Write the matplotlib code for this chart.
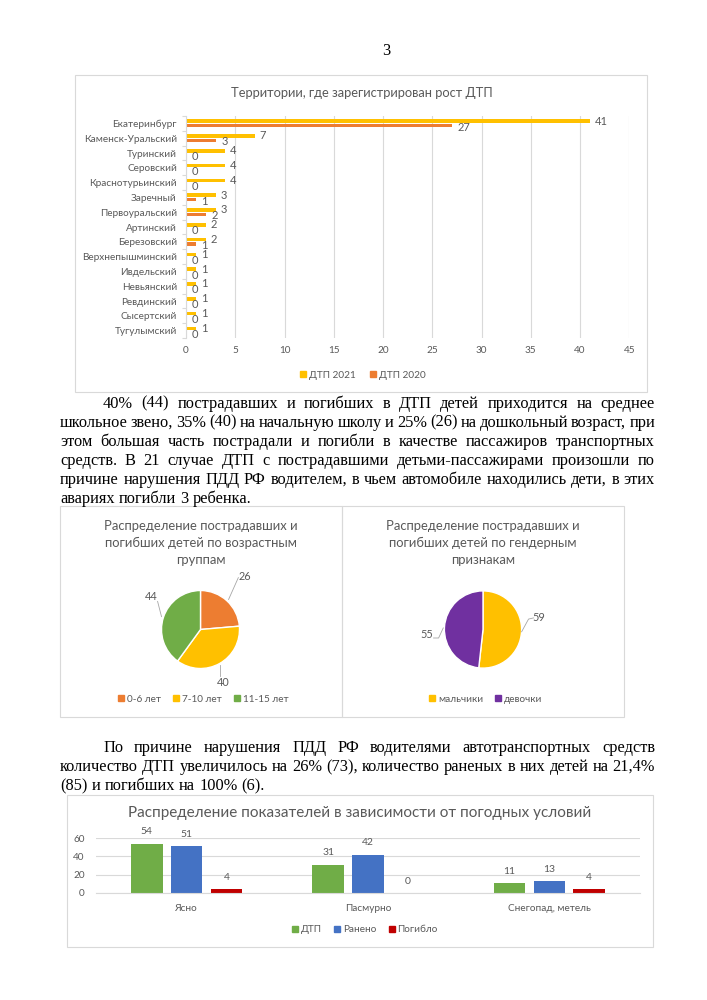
import matplotlib

matplotlib.use("Agg")
import matplotlib.pyplot as plt
import numpy as np
from matplotlib.font_manager import FontProperties
from matplotlib.lines import Line2D
from matplotlib.patches import Rectangle


W, H = 707, 1000

# --- data -------------------------------------------------------------
TERRITORIES = [
    "Екатеринбург", "Каменск-Уральский", "Туринский", "Серовский",
    "Краснотурьинский", "Заречный", "Первоуральский", "Артинский",
    "Березовский", "Верхнепышминский", "Ивдельский", "Невьянский",
    "Ревдинский", "Сысертский", "Тугулымский",
]
DTP_2021 = [41, 7, 4, 4, 4, 3, 3, 2, 2, 1, 1, 1, 1, 1, 1]
DTP_2020 = [27, 3, 0, 0, 0, 1, 2, 0, 1, 0, 0, 0, 0, 0, 0]

AGE_GROUPS = ["0-6 лет", "7-10 лет", "11-15 лет"]
AGE_VALUES = [26, 40, 44]

GENDERS = ["мальчики", "девочки"]
GENDER_VALUES = [59, 55]

WEATHER = ["Ясно", "Пасмурно", "Снегопад, метель"]
WEATHER_SERIES = ["ДТП", "Ранено", "Погибло"]
W_DTP = [54, 31, 11]
W_RANENO = [51, 42, 13]
W_POGIBLO = [4, 0, 4]

PARA_1 = [
    "40% (44) пострадавших и погибших в ДТП детей приходится на среднее",
    "школьное звено, 35% (40) на начальную школу и 25% (26) на дошкольный возраст, при",
    "этом большая часть пострадали и погибли в качестве пассажиров транспортных",
    "средств. В 21 случае ДТП с пострадавшими детьми-пассажирами произошли по",
    "причине нарушения ПДД РФ водителем, в чьем автомобиле находились дети, в этих",
    "авариях погибли 3 ребенка.",
]
PARA_2 = [
    "По причине нарушения ПДД РФ водителями автотранспортных средств",
    "количество ДТП увеличилось на 26% (73), количество раненых в них детей на 21,4%",
    "(85) и погибших на 100% (6).",
]

# --- style ------------------------------------------------------------
GRAY = "#595959"
GRID = "#d9d9d9"
YELLOW = "#FFC000"
ORANGE = "#ED7D31"
GREEN = "#70AD47"
BLUE = "#4472C4"
RED = "#C00000"
PURPLE = "#7030A0"
SANS = "Lato"
SERIF = FontProperties(family="Liberation Serif", size=11.8)


def fx(x):
    return x / W


def fy(y):
    return 1 - y / H


def rect(x0, y0, x1, y1):
    return [x0 / W, 1 - y1 / H, (x1 - x0) / W, (y1 - y0) / H]


def box(fig, x0, y0, x1, y1):
    fig.add_artist(Rectangle((fx(x0), fy(y1)), (x1 - x0) / W, (y1 - y0) / H,
                             transform=fig.transFigure, fill=False,
                             edgecolor=GRID, linewidth=0.8))


def justified(fig, lines, y_first, step, indent=103, left=60, right=655):
    renderer = fig.canvas.get_renderer()
    for i, line in enumerate(lines):
        words = line.split()
        x0 = indent if i == 0 else left
        widths = [renderer.get_text_width_height_descent(w, SERIF, ismath=False)[0] for w in words]
        if i == len(lines) - 1 or len(words) == 1:
            space = renderer.get_text_width_height_descent("a b", SERIF, ismath=False)[0] - \
                renderer.get_text_width_height_descent("ab", SERIF, ismath=False)[0]
        else:
            space = (right - x0 - sum(widths)) / (len(words) - 1)
        x = x0
        yb = y_first + i * step
        for w, wd in zip(words, widths):
            fig.text(fx(x), fy(yb), w, fontproperties=SERIF, va="baseline", ha="left", color="black")
            x += wd + space


def square(color):
    return Line2D([], [], marker="s", ls="", color=color, markersize=4)


def main():
    fig = plt.figure(figsize=(W / 100, H / 100), dpi=100)
    fig.patch.set_facecolor("white")

    fig.text(fx(386), fy(55), "3", fontproperties=SERIF, ha="center", va="baseline")

    # --- chart 1: territories --------------------------------------------
    box(fig, 75, 75, 647, 392)
    fig.text(fx(362), fy(93), "Территории, где зарегистрирован рост ДТП",
             ha="center", va="center", fontsize=9.3, color=GRAY, family=SANS)
    ax = fig.add_axes(rect(186, 116, 629.3, 338))
    y = np.arange(len(TERRITORIES))
    ax.barh(y - 0.15, DTP_2021, height=0.24, color=YELLOW)
    ax.barh(y + 0.15, DTP_2020, height=0.24, color=ORANGE)
    ax.set_xlim(0, 45)
    ax.set_ylim(len(TERRITORIES) - 0.5, -0.5)
    ax.set_xticks(range(0, 46, 5))
    ax.set_yticks(y, TERRITORIES)
    ax.set_yticks(np.arange(-0.5, len(TERRITORIES), 1), minor=True)
    ax.grid(axis="x", color=GRID, linewidth=0.8)
    ax.set_axisbelow(True)
    for s in ["top", "right", "bottom"]:
        ax.spines[s].set_visible(False)
    ax.spines["left"].set_color(GRID)
    ax.tick_params(axis="both", which="major", length=0, labelsize=7.2, labelcolor=GRAY)
    ax.tick_params(axis="x", pad=6)
    ax.tick_params(axis="y", pad=6.5)
    ax.tick_params(axis="y", which="minor", length=3, color=GRID, width=0.8)
    for lbl in ax.get_xticklabels() + ax.get_yticklabels():
        lbl.set_family(SANS)
    for yi, v in zip(y, DTP_2021):
        ax.annotate(str(v), (v, yi - 0.15), xytext=(3.5, 0), textcoords="offset points",
                    ha="left", va="center", fontsize=8, color=GRAY, family=SANS)
    for yi, v in zip(y, DTP_2020):
        ax.annotate(str(v), (v, yi + 0.15), xytext=(4, -1), textcoords="offset points",
                    ha="left", va="center", fontsize=8, color=GRAY, family=SANS)
    fig.legend([square(YELLOW), square(ORANGE)], ["ДТП 2021", "ДТП 2020"], loc="center",
               bbox_to_anchor=(fx(362), fy(375)), ncol=2, frameon=False,
               prop={"family": SANS, "size": 7.2}, labelcolor=GRAY,
               handletextpad=0.1, columnspacing=1.2, handlelength=1)

    justified(fig, PARA_1, 407.5, 19.1)

    # --- pies -----------------------------------------------------------
    box(fig, 60, 506, 342, 717)
    box(fig, 342, 506, 624, 717)
    pies = [
        (200.5, 629.5, 39, AGE_VALUES, [ORANGE, YELLOW, GREEN], AGE_GROUPS,
         "Распределение пострадавших и\nпогибших детей по возрастным\nгруппам",
         [(1.13, 1.36), (0.59, -1.36), (-1.26, 0.85)],
         [[(0.72, 0.77), (0.97, 1.33)], [(0.49, -0.9), (0.49, -1.2)], [(-1.0, 0.33), (-1.1, 0.72)]]),
        (483, 629.5, 38.6, GENDER_VALUES, [YELLOW, PURPLE], GENDERS,
         "Распределение пострадавших и\nпогибших детей по гендерным\nпризнакам",
         [(1.44, 0.3), (-1.46, -0.14)],
         [[(1.0, -0.06), (1.18, 0.27), (1.31, 0.3)], [(-1.03, 0.04), (-1.15, -0.22), (-1.28, -0.22)]]),
    ]
    for cx, cy, r, vals, cols, labels, title, lab_xy, leaders in pies:
        fig.text(fx(cx), fy(543), title, ha="center", va="center", fontsize=9.4,
                 color=GRAY, family=SANS, linespacing=1.5)
        pa = fig.add_axes(rect(cx - 2.5 * r, cy - 2.5 * r, cx + 2.5 * r, cy + 2.5 * r))
        pa.pie(vals, colors=cols, startangle=90, counterclock=False, radius=1,
               wedgeprops=dict(edgecolor="white", linewidth=1))
        pa.set_xlim(-2.5, 2.5)
        pa.set_ylim(-2.5, 2.5)
        pa.set_aspect("equal")
        pa.axis("off")
        for v, (lx, ly), seg in zip(vals, lab_xy, leaders):
            pa.text(lx, ly, str(v), ha="center", va="center", fontsize=7.8, color=GRAY, family=SANS)
            xs, ys = zip(*seg)
            pa.plot(xs, ys, color="#a6a6a6", linewidth=0.6, clip_on=False)
        fig.legend([square(c) for c in cols], labels, loc="center",
                   bbox_to_anchor=(fx(cx + 2), fy(699)), ncol=len(cols), frameon=False,
                   prop={"family": SANS, "size": 7.2}, labelcolor=GRAY,
                   handletextpad=0.1, columnspacing=1.0, handlelength=1)

    justified(fig, PARA_2, 752, 19.1)

    # --- chart 3: weather -----------------------------------------------
    box(fig, 67, 795, 653, 947)
    fig.text(fx(360), fy(813), "Распределение показателей в зависимости от погодных условий",
             ha="center", va="center", fontsize=11, color=GRAY, family=SANS)
    bx = fig.add_axes(rect(96, 838, 640, 893))
    x = np.arange(len(WEATHER))
    series = [W_DTP, W_RANENO, W_POGIBLO]
    colors = [GREEN, BLUE, RED]
    for k, (vals, col) in enumerate(zip(series, colors)):
        off = (k - 1) * 0.22
        bx.bar(x + off, vals, 0.174, color=col)
        for xi, v in zip(x, vals):
            bx.annotate(str(v), (xi + off, v), xytext=(0, 8.5), textcoords="offset points",
                        ha="center", va="center", fontsize=7.5, color=GRAY, family=SANS)
    bx.set_xlim(-0.5, len(WEATHER) - 0.5)
    bx.set_ylim(0, 60)
    bx.set_yticks([0, 20, 40, 60])
    bx.set_xticks(x, WEATHER)
    bx.grid(axis="y", color=GRID, linewidth=0.8)
    bx.set_axisbelow(True)
    for s in ["top", "right", "left"]:
        bx.spines[s].set_visible(False)
    bx.spines["bottom"].set_color(GRID)
    bx.tick_params(length=0, labelsize=7.2, labelcolor=GRAY)
    bx.tick_params(axis="x", pad=8)
    bx.tick_params(axis="y", pad=8)
    for lbl in bx.get_xticklabels() + bx.get_yticklabels():
        lbl.set_family(SANS)
    fig.legend([square(c) for c in colors], WEATHER_SERIES, loc="center",
               bbox_to_anchor=(fx(364), fy(930)), ncol=3, frameon=False,
               prop={"family": SANS, "size": 7.2}, labelcolor=GRAY,
               handletextpad=0.1, columnspacing=1.0, handlelength=1)

    fig.savefig("out.png", dpi=100)
    plt.close(fig)


if __name__ == "__main__":
    main()
